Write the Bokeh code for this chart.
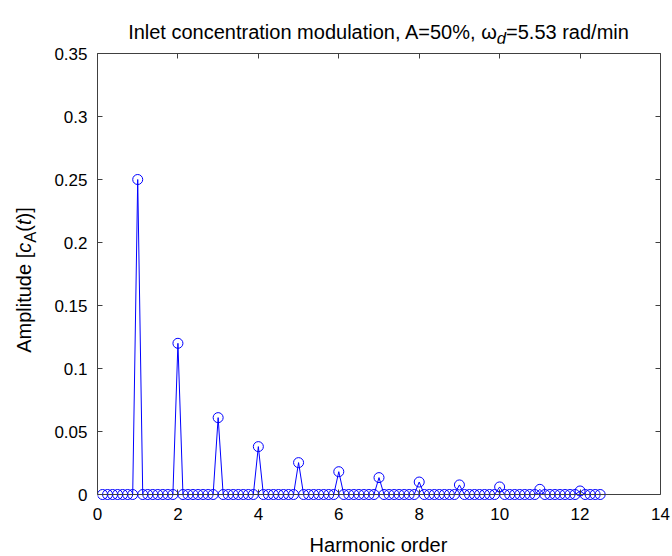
from bokeh.plotting import figure
from bokeh.models import LinearAxis, FixedTicker, Range1d, Div
from bokeh.layouts import column, row
from bokeh.embed import file_html
from bokeh.resources import INLINE

# ---------------- data ----------------
harmonic_order = [
    0.125, 0.25, 0.375, 0.5, 0.625, 0.75, 0.875, 1.0,
    1.125, 1.25, 1.375, 1.5, 1.625, 1.75, 1.875, 2.0,
    2.125, 2.25, 2.375, 2.5, 2.625, 2.75, 2.875, 3.0,
    3.125, 3.25, 3.375, 3.5, 3.625, 3.75, 3.875, 4.0,
    4.125, 4.25, 4.375, 4.5, 4.625, 4.75, 4.875, 5.0,
    5.125, 5.25, 5.375, 5.5, 5.625, 5.75, 5.875, 6.0,
    6.125, 6.25, 6.375, 6.5, 6.625, 6.75, 6.875, 7.0,
    7.125, 7.25, 7.375, 7.5, 7.625, 7.75, 7.875, 8.0,
    8.125, 8.25, 8.375, 8.5, 8.625, 8.75, 8.875, 9.0,
    9.125, 9.25, 9.375, 9.5, 9.625, 9.75, 9.875, 10.0,
    10.125, 10.25, 10.375, 10.5, 10.625, 10.75, 10.875, 11.0,
    11.125, 11.25, 11.375, 11.5, 11.625, 11.75, 11.875, 12.0,
    12.125, 12.25, 12.375, 12.5,
]
amplitude = [
    0, 0, 0, 0, 0, 0, 0, 0.25,
    0, 0, 0, 0, 0, 0, 0, 0.12,
    0, 0, 0, 0, 0, 0, 0, 0.061,
    0, 0, 0, 0, 0, 0, 0, 0.038,
    0, 0, 0, 0, 0, 0, 0, 0.0253,
    0, 0, 0, 0, 0, 0, 0, 0.0181,
    0, 0, 0, 0, 0, 0, 0, 0.0134,
    0, 0, 0, 0, 0, 0, 0, 0.0099,
    0, 0, 0, 0, 0, 0, 0, 0.0076,
    0, 0, 0, 0, 0, 0, 0, 0.0060,
    0, 0, 0, 0, 0, 0, 0, 0.0041,
    0, 0, 0, 0, 0, 0, 0, 0.0028,
    0, 0, 0, 0,
]
x_ticks = [0, 2, 4, 6, 8, 10, 12, 14]
x_tick_labels = ["0", "2", "4", "6", "8", "10", "12", "14"]
y_ticks = [0, 0.05, 0.1, 0.15, 0.2, 0.25, 0.3, 0.35]
y_tick_labels = ["0", "0.05", "0.1", "0.15", "0.2", "0.25", "0.3", "0.35"]

title_html = "Inlet concentration modulation, A=50%, \u03c9<sub><i>d</i></sub>=5.53 rad/min"
xlabel_html = "Harmonic order"
ylabel_html = "Amplitude [<i>c</i><sub>A</sub>(<i>t</i>)]"

# ---------------- style ----------------
FONT = "Liberation Sans"
AX = "#404040"
BLUE = "#0000FF"
TICK_FS = 17

X_MIN, X_MAX = 0, 14
Y_MIN, Y_MAX = 0, 0.35
Y_PAD = 6 * 0.35 / 441.0   # room below y=0 so the zero-level circles are not cut

FIG_H = 493
p = figure(width=627, height=FIG_H,
           x_range=Range1d(X_MIN, X_MAX), y_range=Range1d(Y_MIN - Y_PAD, Y_MAX),
           output_backend="svg", toolbar_location=None,
           min_border_left=52, min_border_right=12,
           min_border_top=10, min_border_bottom=36,
           background_fill_color="white", border_fill_color="white",
           margin=0)
p.xgrid.visible = False
p.ygrid.visible = False
p.outline_line_color = None


def style_axis(ax, ticks, labels, show_labels, standoff, bounds):
    ax.ticker = FixedTicker(ticks=ticks)
    ax.bounds = bounds
    ax.major_label_overrides = {t: (l if show_labels else "") for t, l in zip(ticks, labels)}
    ax.axis_line_color = AX
    ax.axis_line_width = 1
    ax.major_tick_line_color = AX
    ax.major_tick_in = 5
    ax.major_tick_out = 0
    ax.minor_tick_line_color = None
    ax.major_label_text_font = FONT
    ax.major_label_text_color = "black"
    ax.major_label_text_font_size = f"{TICK_FS}px" if show_labels else "1px"
    ax.major_label_standoff = standoff if show_labels else 0
    ax.axis_label = None


# x axis line + ticks sit at y = 0
zero_ax = p.xaxis[0]
style_axis(zero_ax, x_ticks, x_tick_labels, False, 0, (X_MIN, X_MAX))
zero_ax.fixed_location = 0
# x tick labels (line and ticks hidden)
xlab_ax = LinearAxis()
style_axis(xlab_ax, x_ticks, x_tick_labels, True, 7, (X_MIN, X_MAX))
xlab_ax.axis_line_color = None
xlab_ax.major_tick_line_color = None
p.add_layout(xlab_ax, "below")

left_ax = p.yaxis[0]
style_axis(left_ax, y_ticks, y_tick_labels, True, 10, (Y_MIN, Y_MAX))
top_ax = LinearAxis()
right_ax = LinearAxis()
style_axis(top_ax, x_ticks, x_tick_labels, False, 0, (X_MIN, X_MAX))
style_axis(right_ax, y_ticks, y_tick_labels, False, 0, (Y_MIN, Y_MAX))
p.add_layout(top_ax, "above")
p.add_layout(right_ax, "right")

p.line(harmonic_order, amplitude, line_color=BLUE, line_width=1)
p.scatter(harmonic_order, amplitude, marker="circle", size=10,
          line_color=BLUE, line_width=1, fill_color=None)

TXT = f"font-family:'{FONT}',Arial,sans-serif;color:black;white-space:nowrap;"

TITLE_H = 43
title_div = Div(
    text=(f'<div style="position:relative;width:672px;height:{TITLE_H}px;">'
          f'<div style="position:absolute;left:97px;top:22px;width:563px;text-align:center;'
          f'font-size:20px;line-height:20px;{TXT}">{title_html}</div></div>'),
    width=672, height=TITLE_H, margin=0)

ylab_div = Div(
    text=(f'<div style="position:relative;width:45px;height:{FIG_H}px;">'
          f'<div style="position:absolute;left:-126px;top:227px;width:300px;height:20px;'
          f'text-align:center;font-size:20px;line-height:20px;transform:rotate(-90deg);'
          f'transform-origin:150px 10px;{TXT}">{ylabel_html}</div></div>'),
    width=45, height=FIG_H, margin=0)

xlab_div = Div(
    text=(f'<div style="position:relative;width:672px;height:20px;">'
          f'<div style="position:absolute;left:97px;top:-1px;width:563px;text-align:center;'
          f'font-size:20px;line-height:20px;{TXT}">{xlabel_html}</div></div>'),
    width=672, height=20, margin=0)

layout = column(title_div, row(ylab_div, p, spacing=0, margin=0), xlab_div,
                spacing=0, margin=0)

open("out.html", "w").write(file_html(layout, INLINE))
